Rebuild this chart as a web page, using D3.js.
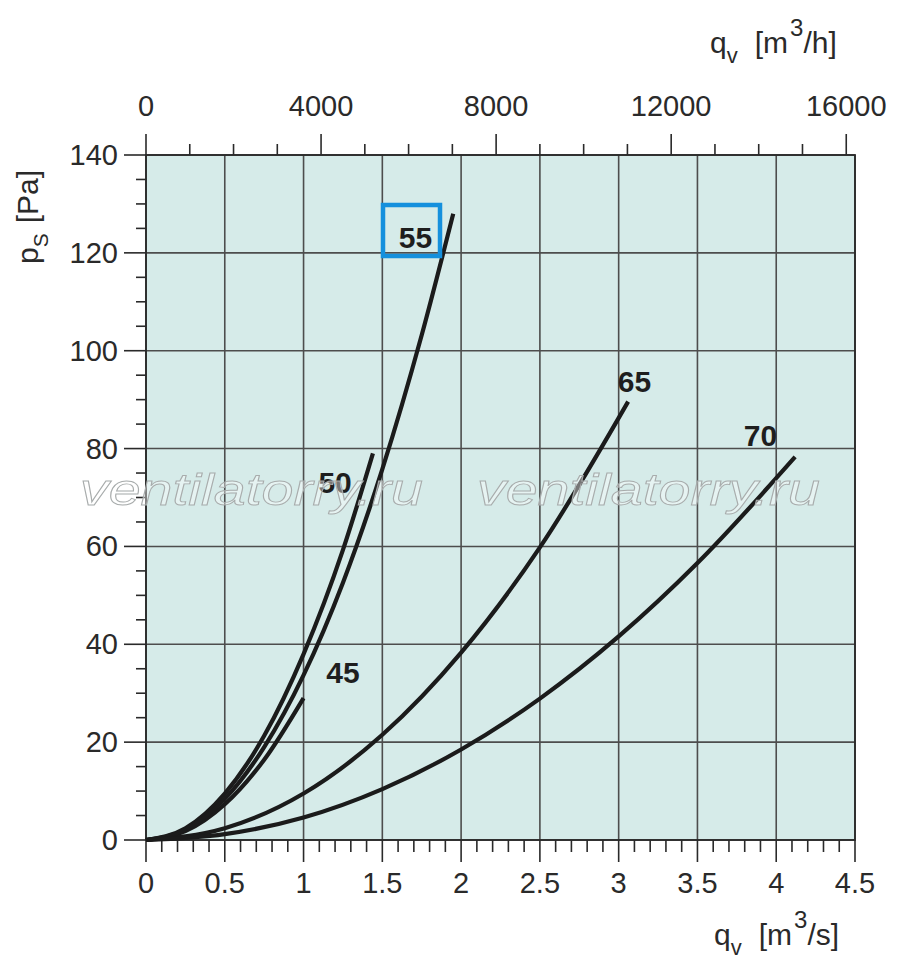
<!DOCTYPE html>
<html>
<head>
<meta charset="utf-8">
<script src="https://cdn.jsdelivr.net/npm/d3@7"></script>
<style>
	body { margin: 0; background: #fff; }
	svg text { font-family: "Liberation Sans", Arial, sans-serif; }
</style>
</head>
<body>
<script>
// curves: [q m3/s, ps Pa]
let curve45 = [[0, 0], [0.25, 1.8], [0.5, 7.3], [0.75, 16.4], [1.0, 29]]
let curve50 = [[0, 0], [0.25, 2.4], [0.5, 9.5], [0.75, 21.3], [1.0, 38], [1.25, 59.3], [1.44, 79]]
let curve55 = [[0, 0], [0.25, 2.1], [0.5, 8.4], [0.75, 19], [1.0, 33.7], [1.25, 52.6], [1.5, 75.8], [1.75, 103.2], [1.95, 128]]
let curve65 = [[0, 0], [0.5, 2.4], [1.0, 9.5], [1.5, 21.5], [2.0, 38.3], [2.5, 59.8], [3.06, 89.6]]
let curve70 = [[0, 0], [0.5, 1.2], [1.0, 4.6], [1.5, 10.4], [2.0, 18.5], [2.5, 28.9], [3.0, 41.6], [3.5, 56.6], [4.12, 78.3]]

let curveNames = ['45', '50', '55', '65', '70']
let curveLabelPos = [[1.25, 32], [1.2, 71], [1.71, 121], [3.1, 91.5], [3.9, 80.5]]

let xTicksMajor = [0, 0.5, 1, 1.5, 2, 2.5, 3, 3.5, 4, 4.5]
let xTickLabels = ['0', '0.5', '1', '1.5', '2', '2.5', '3', '3.5', '4', '4.5']
let yTicksMajor = [0, 20, 40, 60, 80, 100, 120, 140]
let topTicksMajor = [0, 4000, 8000, 12000, 16000]

let W = 900, H = 979
let svg = d3.select('body').append('svg')
	.attr('width', W)
	.attr('height', H)

let x = d3.scaleLinear().domain([0, 4.5]).range([146, 855])
let y = d3.scaleLinear().domain([0, 140]).range([840, 155])
let xh = d3.scaleLinear().domain([0, 4.5 * 3600]).range([146, 855])

let ink = '#2a2a2a'

// plot background
svg.append('rect')
	.attr('x', x(0)).attr('y', y(140))
	.attr('width', x(4.5) - x(0)).attr('height', y(0) - y(140))
	.attr('fill', '#d6ebe9')

// grid
let grid = svg.append('g').attr('stroke', '#4d4d4d').attr('stroke-width', 1.6)
grid.selectAll('.gx').data(xTicksMajor).enter().append('line')
	.attr('x1', d => x(d)).attr('x2', d => x(d))
	.attr('y1', y(0)).attr('y2', y(140))
grid.selectAll('.gy').data(yTicksMajor).enter().append('line')
	.attr('x1', x(0)).attr('x2', x(4.5))
	.attr('y1', d => y(d)).attr('y2', d => y(d))

// ticks
let tickG = svg.append('g').attr('stroke', ink).attr('stroke-width', 1.6)
let xMinor = d3.range(0, 46).map(i => i / 10)
tickG.selectAll('.tx').data(xMinor).enter().append('line')
	.attr('x1', d => x(d)).attr('x2', d => x(d))
	.attr('y1', y(0)).attr('y2', (d, i) => y(0) + (i % 5 === 0 ? 22 : 12))
let yMinor = d3.range(0, 29).map(i => i * 5)
tickG.selectAll('.ty').data(yMinor).enter().append('line')
	.attr('y1', d => y(d)).attr('y2', d => y(d))
	.attr('x1', x(0)).attr('x2', (d, i) => x(0) - (i % 4 === 0 ? 22 : 10))
let topMinor = d3.range(0, 17).map(i => i * 1000)
tickG.selectAll('.tt').data(topMinor).enter().append('line')
	.attr('x1', d => xh(d)).attr('x2', d => xh(d))
	.attr('y1', y(140)).attr('y2', (d, i) => y(140) - (i % 4 === 0 ? 21 : 11))

// tick labels
let fs = 29
svg.append('g').selectAll('text').data(xTicksMajor).enter().append('text')
	.attr('x', d => x(d)).attr('y', 893)
	.attr('text-anchor', 'middle').attr('font-size', fs).attr('fill', ink)
	.text((d, i) => xTickLabels[i])
svg.append('g').selectAll('text').data(yTicksMajor).enter().append('text')
	.attr('x', 118).attr('y', d => y(d) + 10)
	.attr('text-anchor', 'end').attr('font-size', fs).attr('fill', ink)
	.text(d => d)
svg.append('g').selectAll('text').data(topTicksMajor).enter().append('text')
	.attr('x', d => xh(d)).attr('y', 116)
	.attr('text-anchor', 'middle').attr('font-size', fs).attr('fill', ink)
	.text(d => d)

// axis titles
function unitTitle(tx, ty, unit) {
	let t = svg.append('text').attr('x', tx).attr('y', ty).attr('font-size', 30).attr('fill', ink)
	t.append('tspan').text('q')
	t.append('tspan').attr('font-size', 22).attr('dy', 10).text('v')
	t.append('tspan').attr('dy', -10).attr('dx', 17).text('[m')
	t.append('tspan').attr('font-size', 24).attr('dy', -17).attr('dx', 2).text('3')
	t.append('tspan').attr('dy', 17).text(unit)
}
unitTitle(710, 53, '/h]')
unitTitle(714, 945, '/s]')

let tLeft = svg.append('text').attr('transform', 'translate(38,264) rotate(-90)')
	.attr('font-size', 30).attr('fill', ink)
tLeft.append('tspan').text('p')
tLeft.append('tspan').attr('font-size', 21).attr('dy', 10).text('S')
tLeft.append('tspan').attr('dy', -10).attr('dx', 10).text('[Pa]')

// frame
svg.append('rect')
	.attr('x', x(0)).attr('y', y(140))
	.attr('width', x(4.5) - x(0)).attr('height', y(0) - y(140))
	.attr('fill', 'none').attr('stroke', ink).attr('stroke-width', 1.8)

// curves
let line = d3.line()
	.x(d => x(d[0]))
	.y(d => y(d[1]))
	.curve(d3.curveMonotoneX)
let curves = [curve45, curve50, curve55, curve65, curve70]
svg.append('g').selectAll('path').data(curves).enter().append('path')
	.attr('d', line)
	.attr('fill', 'none')
	.attr('stroke', '#1b1b1b')
	.attr('stroke-width', 4.2)
	.attr('stroke-linecap', 'butt')

// curve labels
svg.append('g').selectAll('text').data(curveNames).enter().append('text')
	.attr('x', (d, i) => x(curveLabelPos[i][0]))
	.attr('y', (d, i) => y(curveLabelPos[i][1]))
	.attr('text-anchor', 'middle')
	.attr('font-size', 30).attr('font-weight', 'bold').attr('fill', '#1e1e1e')
	.text(d => d)

// highlight box round "55"
svg.append('rect')
	.attr('x', 383).attr('y', 205).attr('width', 57).attr('height', 51)
	.attr('fill', 'none').attr('stroke', '#1590dd').attr('stroke-width', 4.5)

// watermark
let wm = [80, 477]
svg.append('g').selectAll('text').data(wm).enter().append('text')
	.attr('x', d => d).attr('y', 505)
	.attr('font-family', '"DejaVu Sans", sans-serif')
	.attr('font-style', 'italic')
	.attr('font-size', 44)
	.attr('textLength', 343).attr('lengthAdjust', 'spacingAndGlyphs')
	.attr('fill', 'rgba(255,255,255,0.4)')
	.attr('stroke', '#a8acac').attr('stroke-width', 0.9)
	.text('ventilatorry.ru')
</script>
</body>
</html>
